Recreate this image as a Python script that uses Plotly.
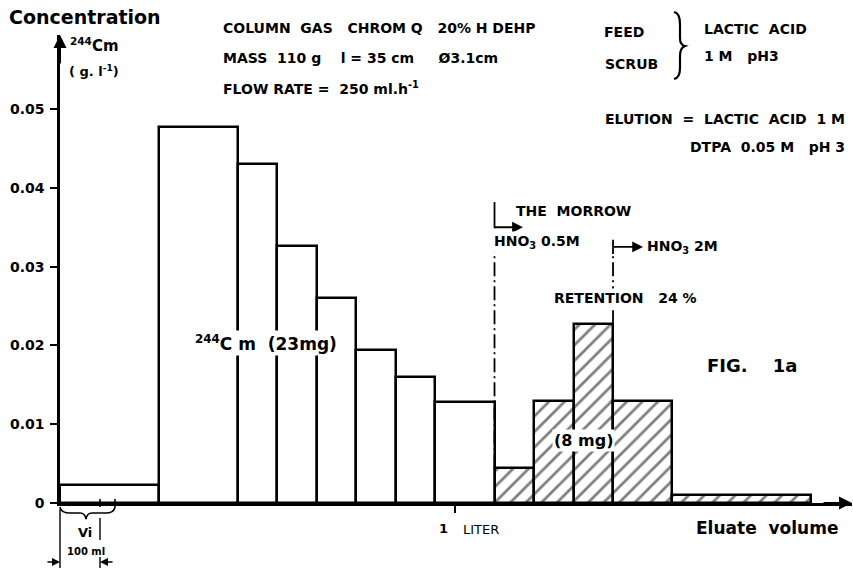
import plotly.graph_objects as go

# ---------------- data ----------------
# Fraction boundaries (ml of eluate) and 244Cm concentration (g/l)
elution_edges = [0, 250, 450, 550, 650, 750, 850, 950, 1100]
elution_conc = [0.0023, 0.0477, 0.0430, 0.0326, 0.0260, 0.0194, 0.0160, 0.0128]
strip_edges = [1100, 1200, 1300, 1400, 1550, 1900]
strip_conc = [0.0044, 0.0129, 0.0227, 0.0129, 0.0010]

y_tickvals = [0, 0.01, 0.02, 0.03, 0.04, 0.05]
y_ticktext = ["0", "0.01", "0.02", "0.03", "0.04", "0.05"]
x_tickvals = [1000]

X_MAX = 2005
Y_MAX = 0.0594

# ---------------- layout geometry (pixels) ----------------
W, H = 853, 570
L, R, T, B = 60, 1, 35, 67
PW = W - L - R
PH = H - T - B


def px(x):
    return (x - L) / PW


def py(y):
    return (H - B - y) / PH


def path(points):
    s = ""
    for cmd, pts in points:
        s += cmd + " " + " ".join(f"{px(a):.5f},{py(b):.5f}" for a, b in pts) + " "
    return s.strip()


FONT = "DejaVu Sans"


def centers(edges):
    return [(a + b) / 2 for a, b in zip(edges[:-1], edges[1:])]


def widths(edges):
    return [b - a for a, b in zip(edges[:-1], edges[1:])]


fig = go.Figure()
fig.add_trace(go.Bar(
    x=centers(elution_edges), y=elution_conc, width=widths(elution_edges),
    marker=dict(color="white", line=dict(color="black", width=2.5)),
    showlegend=False, hoverinfo="skip"))
fig.add_trace(go.Bar(
    x=centers(strip_edges), y=strip_conc, width=widths(strip_edges),
    marker=dict(color="white", line=dict(color="black", width=2.5),
                pattern=dict(shape="/", fgcolor="black", bgcolor="white",
                             size=11, solidity=0.25)),
    showlegend=False, hoverinfo="skip"))

shapes = []
ann = []

# dash-dot change lines
bx1 = strip_edges[0]
bx2 = strip_edges[3]
DASH = "14px,4px,2px,4px"
shapes.append(dict(type="line", xref="x", yref="y", x0=bx1, x1=bx1, y0=strip_conc[0], y1=0.0350,
                   line=dict(color="black", width=1.8, dash=DASH)))
shapes.append(dict(type="line", xref="x", yref="y", x0=bx1, x1=bx1, y0=0.0350, y1=0.0382,
                   line=dict(color="black", width=1.8)))
shapes.append(dict(type="line", xref="x", yref="y", x0=bx2, x1=bx2, y0=strip_conc[2], y1=0.0316,
                   line=dict(color="black", width=1.8, dash=DASH)))
shapes.append(dict(type="line", xref="x", yref="y", x0=bx2, x1=bx2, y0=0.0316, y1=0.0334,
                   line=dict(color="black", width=1.8)))
# arrows
ann.append(dict(x=1172, y=0.0350, xref="x", yref="y", ax=-30, ay=0, text="", showarrow=True,
                arrowhead=2, arrowsize=1.2, arrowwidth=1.8, arrowcolor="black"))
ann.append(dict(x=1476, y=0.0325, xref="x", yref="y", ax=-31, ay=0, text="", showarrow=True,
                arrowhead=2, arrowsize=1.2, arrowwidth=1.8, arrowcolor="black"))

# axis arrows
ann.append(dict(x=X_MAX, y=0, xref="x", yref="y", ax=-30, ay=0, text="", showarrow=True,
                arrowhead=2, arrowsize=1.3, arrowwidth=2, arrowcolor="black"))
ann.append(dict(x=0, y=Y_MAX, xref="x", yref="y", ax=0, ay=30, text="", showarrow=True,
                arrowhead=2, arrowsize=1.3, arrowwidth=2, arrowcolor="black"))

# Vi decorations
shapes.append(dict(type="path", xref="paper", yref="paper",
                   path=path([("M", [(60, 507)]), ("Q", [(61, 513), (70, 513)]), ("L", [(80, 513)]),
                              ("Q", [(85, 513), (86, 519)]), ("Q", [(87, 513), (92, 513)]),
                              ("L", [(106, 513)]), ("Q", [(114, 513), (115, 507)])]),
                   line=dict(color="black", width=1.6)))
for xx in (100, 115):
    shapes.append(dict(type="line", xref="paper", yref="paper", x0=px(xx), x1=px(xx), y0=py(499), y1=py(507),
                       line=dict(color="black", width=1.6)))
shapes.append(dict(type="line", xref="paper", yref="paper", x0=px(60), x1=px(60), y0=py(509), y1=py(568),
                   line=dict(color="black", width=1.4)))
shapes.append(dict(type="line", xref="paper", yref="paper", x0=px(100), x1=px(100), y0=py(518), y1=py(540),
                   line=dict(color="black", width=1.4)))
shapes.append(dict(type="line", xref="paper", yref="paper", x0=px(100), x1=px(100), y0=py(557), y1=py(568),
                   line=dict(color="black", width=1.4)))
ann.append(dict(x=px(60), y=py(562), xref="paper", yref="paper", ax=-14, ay=0, text="", showarrow=True,
                arrowhead=2, arrowsize=1, arrowwidth=1.6, arrowcolor="black"))
ann.append(dict(x=px(100), y=py(562), xref="paper", yref="paper", ax=14, ay=0, text="", showarrow=True,
                arrowhead=2, arrowsize=1, arrowwidth=1.6, arrowcolor="black"))

# feed/scrub brace
shapes.append(dict(type="path", xref="paper", yref="paper",
                   path=path([("M", [(674, 12)]), ("Q", [(680, 13), (680, 24)]), ("L", [(680, 38)]),
                              ("Q", [(680, 45), (685, 46)]), ("Q", [(680, 48), (680, 56)]),
                              ("L", [(680, 68)]), ("Q", [(680, 78), (674, 79)])]),
                   line=dict(color="black", width=2.2)))


def text(x, y, s, size=15, anchor="left", bg=None, weight="bold", yanchor="middle"):
    d = dict(x=px(x), y=py(y), xref="paper", yref="paper", text=s, showarrow=False,
             xanchor=anchor, yanchor=yanchor, font=dict(family=FONT, size=size, color="black", weight=weight))
    if bg:
        d.update(bgcolor=bg, borderpad=1)
    ann.append(d)


text(7, 17, "Concentration", 19)
text(68, 45, "<sup>244</sup>Cm", 15)
text(67, 71, "( g. l<sup>-1</sup>)", 13)
text(221, 28, "COLUMN  GAS   CHROM Q   20% H DEHP", 14)
text(221, 58, "MASS  110 g    l = 35 cm     Ø3.1cm", 14)
text(221, 88, "FLOW RATE =  250 ml.h<sup>-1</sup>", 14)
text(602, 32, "FEED", 14)
text(603, 64, "SCRUB", 14)
text(702, 29, "LACTIC  ACID", 14)
text(702, 56, "1 M   pH3", 14)
text(847, 119, "ELUTION  =  LACTIC  ACID  1 M", 14, anchor="right")
text(847, 147, "DTPA  0.05 M   pH 3", 14, anchor="right")
text(514, 211, "THE  MORROW", 14)
text(492, 242, "HNO<sub>3</sub> 0.5M", 14, bg="white")
text(645, 247, "HNO<sub>3</sub> 2M", 14)
text(552, 298, "RETENTION   24 %", 14, bg="white")
text(193, 343, "<sup>244</sup>C m  (23mg)", 17, bg="white")
text(552, 440, "(8 mg)", 16, bg="white")
text(705, 366, "FIG.    1a", 18)
text(437, 528, "1", 13)
text(461, 529, "LITER", 13, weight="normal")
text(840, 528, "Eluate  volume", 17, anchor="right")
text(85, 532, "Vi", 13, anchor="center")
text(86, 551, "100 ml", 10, anchor="center")

fig.update_layout(
    width=W, height=H, margin=dict(l=L, r=R, t=T, b=B),
    paper_bgcolor="white", plot_bgcolor="white",
    bargap=0, barmode="overlay",
    shapes=shapes, annotations=ann,
    xaxis=dict(range=[0, X_MAX], showgrid=False, zeroline=False, showline=True, linecolor="black",
               linewidth=2.5, ticks="outside", ticklen=7, tickwidth=2, tickcolor="black",
               tickvals=x_tickvals, showticklabels=False, fixedrange=True),
    yaxis=dict(range=[0, Y_MAX], showgrid=False, zeroline=False, showline=True, linecolor="black",
               linewidth=2.5, ticks="outside", ticklen=7, tickwidth=2, tickcolor="black",
               tickvals=y_tickvals, ticktext=y_ticktext, ticklabelstandoff=3,
               tickfont=dict(family=FONT, size=14, color="black", weight="bold"), fixedrange=True),
)

fig.write_html("out.html")
